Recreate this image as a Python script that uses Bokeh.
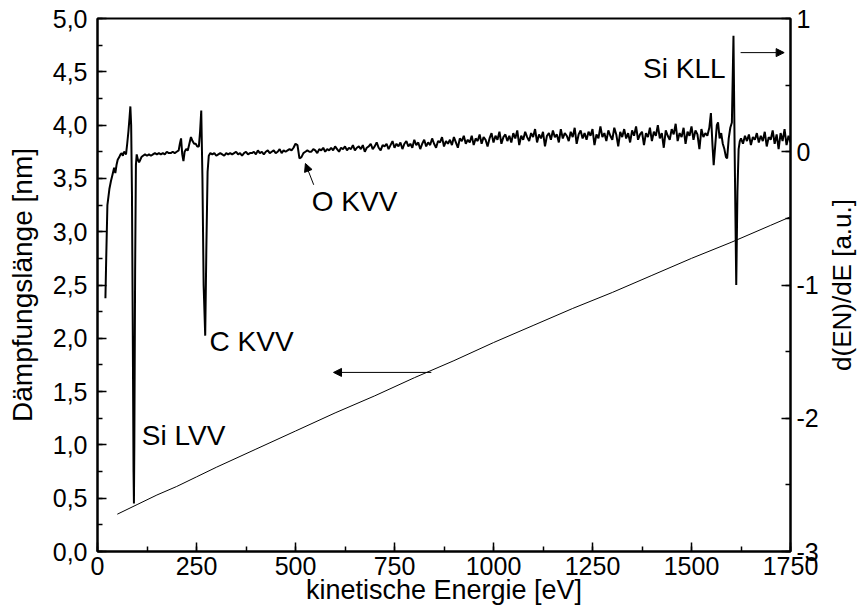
import math
import numpy as np
from bokeh.plotting import figure
from bokeh.layouts import row
from bokeh.models import (Range1d, LinearAxis, FixedTicker, CustomJSTickFormatter,
                          Label, Arrow, NormalHead)
from bokeh.embed import file_html
from bokeh.resources import INLINE

# ---------------- data ----------------
x_ticks = [0, 250, 500, 750, 1000, 1250, 1500, 1750]
left_ticks = [0, 0.5, 1.0, 1.5, 2.0, 2.5, 3.0, 3.5, 4.0, 4.5, 5.0]
right_ticks = [-3, -2, -1, 0, 1]

# attenuation length (left axis, nm)
damp_E = [50, 100, 150, 200, 250, 300, 400, 500, 600, 700, 800, 900, 1000,
          1100, 1200, 1300, 1400, 1500, 1600, 1700, 1750]
damp_nm = [0.35, 0.44, 0.53, 0.61, 0.70, 0.79, 0.96, 1.13, 1.30, 1.46, 1.63,
           1.79, 1.96, 2.12, 2.28, 2.43, 2.59, 2.75, 2.90, 3.06, 3.14]

# Auger spectrum d(EN)/dE (right axis) - low energy part with Si LVV and C KVV
low_E = [20, 22, 25, 30, 34, 38, 42, 45, 48, 51, 55, 58, 61, 64, 67, 70, 72, 75,
         78, 81, 83, 85, 87, 89, 91, 92, 93, 95, 97, 99, 102, 105, 108, 111,
         115, 120, 125, 130, 135, 140, 145, 150, 155, 160, 165, 170, 175, 180,
         185, 190, 195, 200, 205, 208, 211, 214, 217, 220, 224, 228, 232, 236,
         240, 244, 248, 252, 256, 259, 262, 265, 268, 272, 275, 278, 281, 285]
low_d = [-1.10, -0.80, -0.40, -0.28, -0.22, -0.17, -0.12, -0.16, -0.10, -0.06,
         -0.04, -0.02, -0.01, -0.03, 0.00, -0.01, -0.02, 0.06, 0.15, 0.26, 0.34,
         0.20, -0.30, -1.30, -2.40, -2.64, -2.20, -0.90, -0.10, -0.02, -0.06,
         -0.08, -0.06, -0.04,
         -0.03, -0.02, -0.03, -0.02, -0.03, -0.02, -0.01, -0.02, -0.01, -0.02,
         -0.01, -0.02, 0.00, -0.01, -0.01, 0.00, -0.01, 0.00, 0.01, 0.06, 0.10,
         -0.02, -0.07, 0.00, 0.02, 0.01, 0.06, 0.11, 0.08, 0.06, 0.06, 0.04,
         0.04, 0.15, 0.31, -0.20, -1.00, -1.38, -0.70, -0.15, -0.03, -0.01]

# noisy middle part, 290 ... 1535 eV every 5 eV (contains O KVV near 510 eV)
mid_start, mid_step = 290, 5
mid_d = [
    -0.02, -0.01, -0.03, -0.02, -0.01, -0.02, -0.03, -0.01, -0.02, -0.01,
    -0.02, -0.01, 0.00, -0.02, -0.01, -0.03, -0.01, 0.00, -0.02, -0.01,
    -0.01, 0.00, -0.02, 0.01, -0.01, 0.00, -0.02, 0.00, 0.01, -0.01,
    0.00, 0.01, -0.01, 0.00, 0.02, -0.01, 0.01, 0.00, 0.01, 0.02,
    0.01, 0.03, 0.06, 0.05, -0.05, -0.04, -0.01, 0.00, 0.01, 0.00,
    0.00, 0.02, 0.01, -0.01, 0.02, 0.01, 0.03, 0.00, 0.02, 0.01,
    0.03, 0.01, 0.04, 0.02, 0.00, 0.03, 0.02, 0.04, 0.01, 0.03,
    0.02, 0.05, 0.01, 0.03, 0.04, 0.02, 0.05, 0.00, 0.03, 0.04,
    0.06, 0.02, 0.04, 0.07, 0.03, 0.01, 0.05, 0.04, 0.06, 0.02,
    0.05, 0.08, 0.03, 0.06, 0.04, 0.07, 0.02, 0.06, 0.08, 0.04,
    0.06, 0.03, 0.09, 0.05, 0.07, 0.02, 0.06, 0.09, 0.04, 0.07,
    0.05, 0.10, 0.06, 0.03, 0.08, 0.07, 0.11, 0.04, 0.08, 0.06,
    0.09, 0.05, 0.11, 0.07, 0.03, 0.10, 0.08, 0.12, 0.06, 0.09,
    0.07, 0.12, 0.05, 0.10, 0.08, 0.13, 0.06, 0.11, 0.09, 0.04,
    0.10, 0.14, 0.07, 0.12, 0.09, 0.15, 0.06, 0.11, 0.13, 0.08,
    0.12, 0.07, 0.14, 0.10, 0.16, 0.05, 0.12, 0.09, 0.15, 0.11,
    0.08, 0.14, 0.11, 0.17, 0.07, 0.13, 0.10, 0.15, 0.04, 0.12,
    0.14, 0.09, 0.16, 0.11, 0.13, 0.07, 0.17, 0.10, 0.14, 0.12,
    0.08, 0.15, 0.11, 0.18, 0.06, 0.13, 0.16, 0.10, 0.14, 0.09,
    0.15, 0.12, 0.17, 0.05, 0.13, 0.10, 0.19, 0.11, 0.14, 0.08,
    0.16, 0.12, 0.09, 0.18, 0.13, 0.04, 0.15, 0.11, 0.17, 0.10,
    0.14, 0.07, 0.16, 0.12, 0.19, 0.09, 0.13, 0.15, 0.05, 0.14,
    0.11, 0.18, 0.08, 0.15, 0.12, 0.20, 0.10, 0.14, 0.03, 0.16,
    0.12, 0.09, 0.17, 0.13, 0.21, 0.08, 0.14, 0.11, 0.18, 0.06,
    0.15, 0.12, 0.19, 0.09, 0.16, 0.13, 0.02, 0.17, 0.11, 0.14,
]

# Si KLL region
kll_E = [1540, 1545, 1549, 1553, 1556, 1560, 1564, 1567, 1571, 1575, 1579,
         1583, 1587, 1590, 1594, 1598, 1602, 1606, 1609, 1613, 1616, 1619, 1622]
kll_d = [0.12, 0.18, 0.29, 0.05, -0.10, 0.05, 0.20, 0.22, 0.10, 0.14, 0.06,
         0.02, -0.04, -0.05, 0.10, 0.18, 0.22, 0.87, 0.00, -1.00, -0.30, 0.02,
         0.08]

# high energy tail, 1625 ... 1750 eV every 5 eV
high_start, high_step = 1625, 5
high_d = [0.10, 0.06, 0.12, 0.08, 0.13, 0.05, 0.11, 0.09, 0.14, 0.07,
          0.12, 0.08, 0.15, 0.04, 0.11, 0.09, 0.16, 0.06, 0.13, 0.02,
          0.14, 0.08, 0.17, 0.05, 0.12, 0.07]

mid_E = [mid_start + i * mid_step for i in range(len(mid_d))]
high_E = [high_start + i * high_step for i in range(len(high_d))]
spec_E = low_E + mid_E + kll_E + high_E
spec_d = low_d + mid_d + kll_d + high_d

FONT = "Liberation Sans"

# ---------------- main figure ----------------
p = figure(width=824, height=607, x_range=Range1d(0, 1750), y_range=Range1d(0, 5),
           output_backend="svg", toolbar_location=None,
           min_border_left=97, min_border_right=34, min_border_top=18,
           min_border_bottom=54)
p.extra_y_ranges = {"r": Range1d(-3, 1)}
p.grid.visible = False
p.outline_line_color = "black"
p.outline_line_width = 2
p.background_fill_color = "white"
p.border_fill_color = "white"

p.line(damp_E, damp_nm, line_color="black", line_width=1)
p.line(spec_E, spec_d, line_color="black", line_width=2, y_range_name="r")

# axes
ax_r = LinearAxis(y_range_name="r")
p.add_layout(ax_r, "right")

xa = p.xaxis[0]
ya = p.yaxis[0]
xa.ticker = FixedTicker(ticks=x_ticks, minor_ticks=[125 * i for i in range(15)])
ya.ticker = FixedTicker(ticks=left_ticks, minor_ticks=[0.25 * i for i in range(21)])
ax_r.ticker = FixedTicker(ticks=right_ticks, minor_ticks=[-3, -2.5, -2, -1.5, -1, -0.5, 0, 0.5, 1])
ya.formatter = CustomJSTickFormatter(code="return tick.toFixed(1).replace('.', ',');")
ax_r.formatter = CustomJSTickFormatter(code="return tick.toFixed(0);")
xa.formatter = CustomJSTickFormatter(code="return tick.toFixed(0);")

xa.axis_label = "kinetische Energie [eV]"
ya.axis_label = "Dämpfungslänge [nm]"

for ax in (xa, ya, ax_r):
    ax.axis_line_width = 2
    ax.axis_line_color = "black"
    ax.major_tick_in = 9
    ax.major_tick_out = 0
    ax.minor_tick_in = 5
    ax.minor_tick_out = 0
    ax.major_tick_line_width = 1.5
    ax.minor_tick_line_width = 1.5
    ax.major_label_text_font = FONT
    ax.major_label_text_font_size = "25px"
    ax.major_label_text_color = "black"
    ax.axis_label_text_font = FONT
    ax.axis_label_text_font_size = "28px"
    ax.axis_label_text_font_style = "normal"
    ax.axis_label_text_color = "black"

xa.major_label_standoff = 5
xa.axis_label_standoff = -3
xa.axis_label_text_font_size = "27px"
ya.major_label_standoff = 10
ya.axis_label_standoff = 12
ax_r.major_label_standoff = 6

# annotations
def lab(x, y, t, align="left"):
    p.add_layout(Label(x=x, y=y, text=t, text_font=FONT, text_font_size="28px",
                       text_align=align, text_baseline="middle", text_color="black"))

lab(112, 1.09, "Si LVV")
lab(283, 1.97, "C KVV")
lab(541, 3.28, "O KVV")
lab(1586, 4.53, "Si KLL", align="right")

def arrow(x0, y0, x1, y1):
    p.add_layout(Arrow(x_start=x0, y_start=y0, x_end=x1, y_end=y1,
                       line_color="black", line_width=1,
                       end=NormalHead(size=8, fill_color="black", line_color="black",
                                      line_width=1)))

arrow(1624, 4.68, 1734, 4.68)
arrow(843, 1.68, 596, 1.68)
arrow(546, 3.44, 525, 3.64)

# ---------------- right-axis title strip ----------------
p2 = figure(width=35, height=607, x_range=Range1d(0, 1), y_range=Range1d(0, 1),
            output_backend="svg", toolbar_location=None,
            x_axis_type=None, y_axis_type=None, min_border=0)
p2.grid.visible = False
p2.outline_line_color = None
p2.background_fill_color = "white"
p2.border_fill_color = "white"
p2.add_layout(Label(x=0.5, y=0.5, text="d(EN)/dE [a.u.]", text_font=FONT,
                    text_font_size="26px", text_align="center", text_baseline="middle",
                    angle=math.pi / 2, text_color="black"))

layout = row(p, p2, spacing=0)
open("out.html", "w").write(file_html(layout, INLINE))
